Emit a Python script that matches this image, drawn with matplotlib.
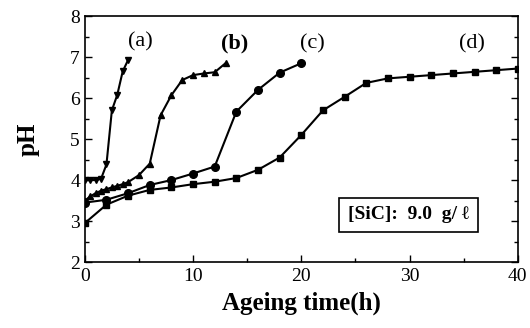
import numpy as np
import matplotlib
matplotlib.use('Agg')
import matplotlib.pyplot as plt
from matplotlib.ticker import MultipleLocator

plt.rcParams['font.family'] = ['Liberation Serif', 'DejaVu Serif']

# ageing time (h) and pH for each curve
t_a = [0, 0.5, 1, 1.5, 2, 2.5, 3, 3.5, 4]
ph_a = [4.0, 4.0, 4.0, 4.03, 4.38, 5.7, 6.08, 6.65, 6.93]

t_b = [0, 0.5, 1, 1.5, 2, 2.5, 3, 3.5, 4, 5, 6, 7, 8, 9, 10, 11, 12, 13]
ph_b = [3.5, 3.6, 3.68, 3.74, 3.78, 3.82, 3.86, 3.9, 3.95, 4.12, 4.4,
        5.58, 6.07, 6.44, 6.56, 6.6, 6.63, 6.85]

t_c = [0, 2, 4, 6, 8, 10, 12, 14, 16, 18, 20]
ph_c = [3.45, 3.52, 3.68, 3.88, 4.0, 4.16, 4.33, 5.67, 6.2, 6.62, 6.85]

t_d = [0, 2, 4, 6, 8, 10, 12, 14, 16, 18, 20,
       22, 24, 26, 28, 30, 32, 34, 36, 38, 40]
ph_d = [2.95, 3.4, 3.62, 3.76, 3.82, 3.9, 3.96, 4.05, 4.25, 4.55, 5.1,
        5.7, 6.03, 6.37, 6.48, 6.52, 6.56, 6.6, 6.64, 6.68, 6.72]

curve_labels = ['(a)', '(b)', '(c)', '(d)']
label_pos = [(5.1, 7.37), (13.8, 7.32), (21.0, 7.32), (35.8, 7.32)]

fig = plt.figure(figsize=(5.30, 3.28), dpi=100)
ax = fig.add_axes([0.160, 0.201, 0.817, 0.750])

ax.plot(t_a, ph_a, 'k-', marker='v', ms=5, lw=1.5)
ax.plot(t_b, ph_b, 'k-', marker='^', ms=4.5, lw=1.5)
ax.plot(t_c, ph_c, 'k-', marker='o', ms=5.5, lw=1.5)
ax.plot(t_d, ph_d, 'k-', marker='s', ms=5, lw=1.5)

for lab, (x, y) in zip(curve_labels, label_pos):
    ax.text(x, y, lab, fontsize=16, ha='center', va='center',
            fontweight='bold' if lab == '(b)' else 'normal')

ax.text(29.9, 3.15, '[SiC]:  9.0  g/ \u2113', fontsize=14, fontweight='bold',
        ha='center', va='center',
        bbox=dict(boxstyle='square,pad=0.45', fc='white', ec='black', lw=1.2))

ax.set_xlim(0, 40)
ax.set_ylim(2, 8)
ax.xaxis.set_major_locator(MultipleLocator(10))
ax.xaxis.set_minor_locator(MultipleLocator(5))
ax.yaxis.set_major_locator(MultipleLocator(1))
ax.yaxis.set_minor_locator(MultipleLocator(0.5))
ax.tick_params(which='both', direction='in', right=True, top=False,
               labelsize=14, width=1)
ax.tick_params(which='major', length=5)
ax.tick_params(which='minor', length=3)
ax.tick_params(axis='x', pad=4)
for s in ax.spines.values():
    s.set_linewidth(1.2)

ax.set_xlabel('Ageing time(h)', fontsize=18, fontweight='bold', labelpad=5)
ax.set_ylabel('pH', fontsize=18, fontweight='bold', labelpad=22)

fig.savefig('out.png', dpi=100)
